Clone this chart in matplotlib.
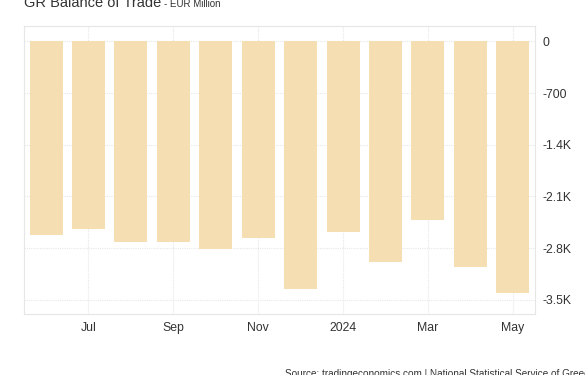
import matplotlib.pyplot as plt
from matplotlib.ticker import FuncFormatter

months = ["Jun", "Jul", "Aug", "Sep", "Oct", "Nov", "Dec", "Jan", "Feb", "Mar", "Apr", "May"]
balance = [-2620, -2535, -2719, -2719, -2805, -2665, -3351, -2584, -2990, -2421, -3049, -3401]
tick_pos = [1, 3, 5, 7, 9, 11]
tick_labels = ["Jul", "Sep", "Nov", "2024", "Mar", "May"]
y_ticks = [0, -700, -1400, -2100, -2800, -3500]

plt.rcParams["font.family"] = ["Liberation Sans", "DejaVu Sans"]

fig = plt.figure(figsize=(5.85, 3.75), dpi=100)
ax = fig.add_axes([0.041, 0.163, 0.874, 0.768])

ax.bar(range(len(months)), balance, width=0.78, color="#f4deb2", zorder=2)

ax.set_xlim(-0.52, 11.53)
ax.set_ylim(-3690, 210)
ax.set_xticks(tick_pos)
ax.set_xticklabels(tick_labels)
ax.set_yticks(y_ticks)


def fmt(v, pos):
    if v == 0:
        return "0"
    if abs(v) >= 1000:
        return f"{v/1000:.1f}K"
    return f"{v:.0f}"


ax.yaxis.set_major_formatter(FuncFormatter(fmt))
ax.yaxis.tick_right()
ax.tick_params(axis="both", length=0, labelsize=8.8, colors="#333333")
ax.tick_params(axis="y", pad=5)
ax.tick_params(axis="x", pad=6)

ax.grid(True, color="#e8e8e8", linestyle=(0, (1, 1)), linewidth=0.8, zorder=0)
for s in ax.spines.values():
    s.set_color("#e6e6e6")
    s.set_linewidth(0.8)

fig.text(0.041, 1 - 3 / 375, "GR Balance of Trade", fontsize=10.5, color="#333333", va="center")
fig.text(0.280, 1 - 4 / 375, "- EUR Million", fontsize=7, color="#333333", va="center")
fig.text(0.487, 1 - 374 / 375, "Source: tradingeconomics.com | National Statistical Service of Greece",
         fontsize=7.2, color="#333333", va="center")

fig.savefig("out.png", dpi=100)
